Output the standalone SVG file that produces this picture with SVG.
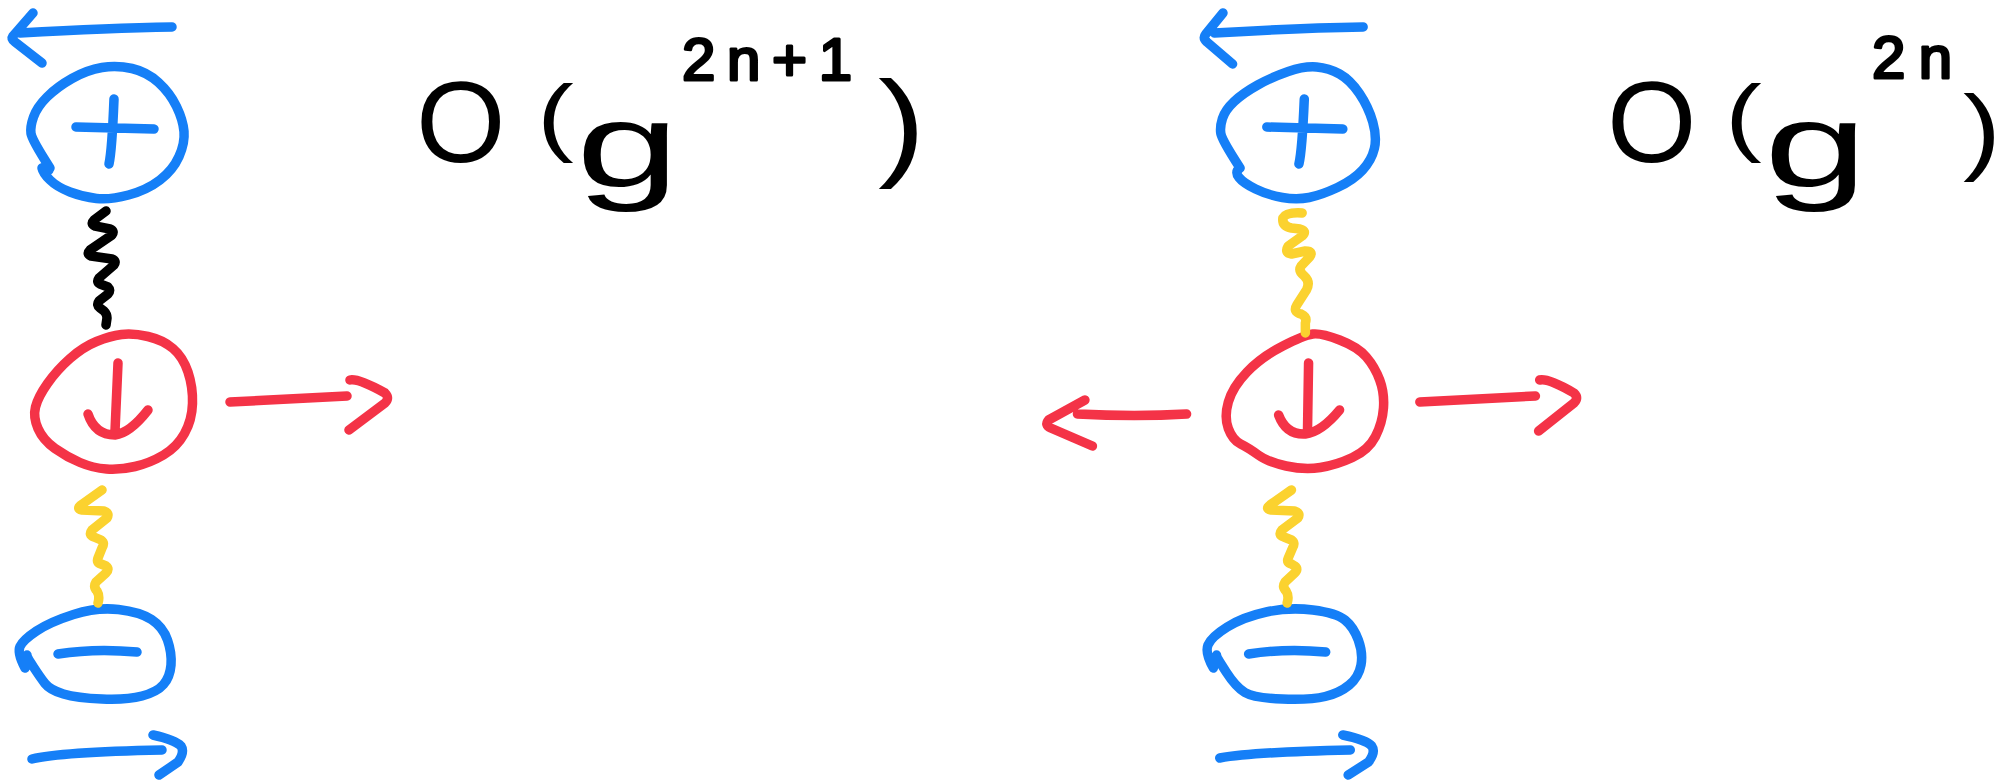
<svg xmlns="http://www.w3.org/2000/svg" width="2005" height="780" viewBox="0 0 2005 780">
<style>
.s{fill:none;stroke-width:9.5;stroke-linecap:round;stroke-linejoin:round;vector-effect:non-scaling-stroke}
.b{stroke:#157ff7}
.r{stroke:#f43347}
.y{stroke:#fbd22f}
.k{stroke:#000}
.t{font-family:"Liberation Sans",Arial,sans-serif;fill:#000}
.sup{stroke:#000;stroke-width:3;stroke-linejoin:round}
</style>
<rect width="2005" height="780" fill="#fff"/>

<!-- LEFT COLUMN -->
<g id="node-plus-left">
<path class="s b" d="M50,168 Q32,140 31,133.5 Q30,127 33.5,117 Q37,107 47,97 Q57,87 72,78.5 Q87,70 102,67.5 Q117,65 132,68.5 Q147,72 158.5,82.5 Q170,93 176.5,106.5 Q183,120 184,131.5 Q185,143 179,156.5 Q173,170 160,180 Q147,190 128.5,195 Q110,200 96.5,198.5 Q83,197 70,192 Q57,187 50,180 Q43,173 42,168 L49,170"/>
<path class="s b" d="M76,127 L154,129 M114,99 Q112,150 109,164"/>
</g>
<g id="node-down-left">
<path class="s r" d="M121.5,334.5 Q110,336 96.5,341.5 Q83,347 70,358.5 Q57,370 47.5,383.5 Q38,397 35.5,407 Q33,417 38,428.5 Q43,440 55,448.5 Q67,457 80,462.5 Q93,468 106.5,469 Q120,470 135,466.5 Q150,463 163.5,455 Q177,447 184.5,433.5 Q192,420 192.5,403.5 Q193,387 188,372 Q183,357 173,348.5 Q163,340 148,336.5 Q133,333 121.5,334.5 Z"/>
<path class="s r" d="M118,363 L115,431 M88,414 Q95,435 115,435 Q130,433 148,410"/>
</g>
<g id="node-minus-left">
<path class="s b" d="M25,668 Q17,653 20,646.5 Q23,640 36.5,631 Q50,622 73.5,614.5 Q97,607 118.5,609.5 Q140,612 151.5,619.5 Q163,627 167.5,640 Q172,653 171,665 Q170,677 163.5,684.5 Q157,692 142,696 Q127,700 102,699 Q77,698 63.5,694 Q50,690 45,683.5 Q40,677 33.5,667 Q27,657 27,655"/>
<path class="s b" d="M58,654 Q95,648 137,652"/>
</g>

<!-- RIGHT COLUMN -->
<g id="node-plus-right" transform="matrix(1.07,0,0,1,-72.8,0)">
<path class="s b" d="M1227,168 Q1210,140 1209,133.5 Q1208,127 1210.5,118.5 Q1213,110 1221.5,101.5 Q1230,93 1243.5,85 Q1257,77 1272,71.5 Q1287,66 1298.5,67 Q1310,68 1320,74 Q1330,80 1338.5,93.5 Q1347,107 1351,122 Q1355,137 1352.5,148.5 Q1350,160 1341.5,170 Q1333,180 1318,187.5 Q1303,195 1291.5,197.5 Q1280,200 1266.5,197.5 Q1253,195 1241.5,189 Q1230,183 1226,177.5 Q1222,172 1226,169"/>
<path class="s b" d="M1252,127 L1323,129 M1287,99 Q1285,150 1282,164"/>
</g>
<g id="node-down-right" transform="matrix(1.07,0,0,1,-72.8,0)">
<path class="s r" d="M1267,346 Q1247,357 1233.5,372 Q1220,387 1216,402 Q1212,417 1216,428.5 Q1220,440 1227.5,444 Q1235,448 1244,455 Q1253,462 1270,466 Q1287,470 1302,467.5 Q1317,465 1332,457.5 Q1347,450 1353.5,436.5 Q1360,423 1361,408 Q1362,393 1357.5,380 Q1353,367 1345,357 Q1337,347 1320,340 Q1303,333 1295,334 Q1287,335 1267,346 Z"/>
<path class="s r" d="M1291,363 L1290,431 M1263,415 Q1270,435 1288,434 Q1303,432 1320,410"/>
</g>
<g id="node-minus-right" transform="matrix(1.07,0,0,1,-72.8,0)">
<path class="s b" d="M1202,668 Q1194,653 1197,645 Q1200,637 1215,627 Q1230,617 1251.5,612 Q1273,607 1295,610 Q1317,613 1325,620 Q1333,627 1337.5,640 Q1342,653 1340,665 Q1338,677 1329,685 Q1320,693 1306.5,696.5 Q1293,700 1266.5,699 Q1240,698 1231.5,692.5 Q1223,687 1214,672 Q1205,657 1205,655"/>
<path class="s b" d="M1235,654 Q1270,648 1307,652"/>
</g>

<g id="connectors">
<g id="connectors-left">
<path class="s b" d="M172,27 Q110,28 20,33 M33,13 L13,36 Q11,39 15,42 L42,63"/>
<path class="s k" d="M106,211 L94,220 Q90,224 95,226 L110,229 Q115,231 112,235 L90,250 Q86,254 91,256 L112,259 Q117,261 114,265 L99,278 Q96,282 100,284 L108,287 Q111,290 108,294 L99,301 Q96,305 100,308 L104,311 Q107,314 107,318 L106,325"/>
<path class="s r" d="M230,402 L347,396 M350,380 Q358,378 385,393 Q390,398 385,403 L349,430"/>
<path class="s y" d="M102,490 L81,505 Q76,509 82,510 L104,511 Q110,513 107,518 L92,530 Q88,535 94,537 L101,540 Q105,543 102,548 L98,558 Q96,563 101,564 L106,566 Q110,569 106,573 L96,582 Q93,587 97,591 Q100,596 98,603"/>
<path class="s b" d="M32,759 Q60,752 162,750 M153,735 Q175,740 181,746 Q185,752 178,762 L159,775"/>
</g>
<g id="connectors-right" transform="matrix(1.07,0,0,1,-72.8,0)">
<path class="s b" d="M1342,27 Q1280,28 1203,33 M1211,13 L1195,34 Q1192,38 1196,42 L1220,64"/>
<path class="s y" d="M1285,213 Q1270,212 1267,218 Q1266,226 1275,228 L1283,229 Q1290,231 1285,236 L1272,246 Q1268,253 1275,254 L1288,251 Q1296,251 1292,257 L1284,266 Q1281,271 1287,276 Q1293,282 1289,290 L1280,305 Q1276,312 1284,314 Q1290,317 1288,323 L1288,333"/>
<path class="s r" d="M1177,414 Q1130,417 1075,414 M1082,400 L1048,420 Q1044,425 1050,428 L1089,446"/>
<path class="s r" d="M1395,402 L1503,396 M1507,380 Q1515,378 1539,393 Q1544,398 1539,403 L1506,431"/>
<path class="s y" d="M1275,490 L1255,505 Q1250,509 1256,510 L1278,511 Q1284,513 1281,518 L1266,530 Q1262,535 1268,537 L1275,540 Q1279,543 1276,548 L1272,558 Q1270,563 1275,564 L1278,566 Q1282,569 1278,573 L1269,582 Q1266,587 1270,591 Q1273,596 1271,603"/>
<path class="s b" d="M1208,758 Q1240,752 1330,750 M1323,735 Q1345,740 1350,746 Q1354,752 1347,762 L1328,775"/>
</g>
</g>

<g id="label-left">
<text class="t" x="416" y="162" font-size="115">O</text>
<text class="t" transform="translate(537,145) scale(1.3,1)" font-size="85">(</text>
<text class="t" transform="translate(576,187) scale(1.55,1)" font-size="120">g</text>
<text class="t sup" x="682" y="80" font-size="60" textLength="170" lengthAdjust="spacing">2n+1</text>
<text class="t" transform="translate(878,164) scale(1.2,1)" font-size="119">)</text>
</g>
<g id="label-right">
<text class="t" x="1607" y="162" font-size="115">O</text>
<text class="t" transform="translate(1725,145) scale(1.3,1)" font-size="85">(</text>
<text class="t" transform="translate(1764,187) scale(1.55,1)" font-size="120">g</text>
<text class="t sup" x="1872" y="78" font-size="60" textLength="80" lengthAdjust="spacing">2n</text>
<text class="t" transform="translate(1963,162) scale(1.2,1)" font-size="95">)</text>
</g>
</svg>
